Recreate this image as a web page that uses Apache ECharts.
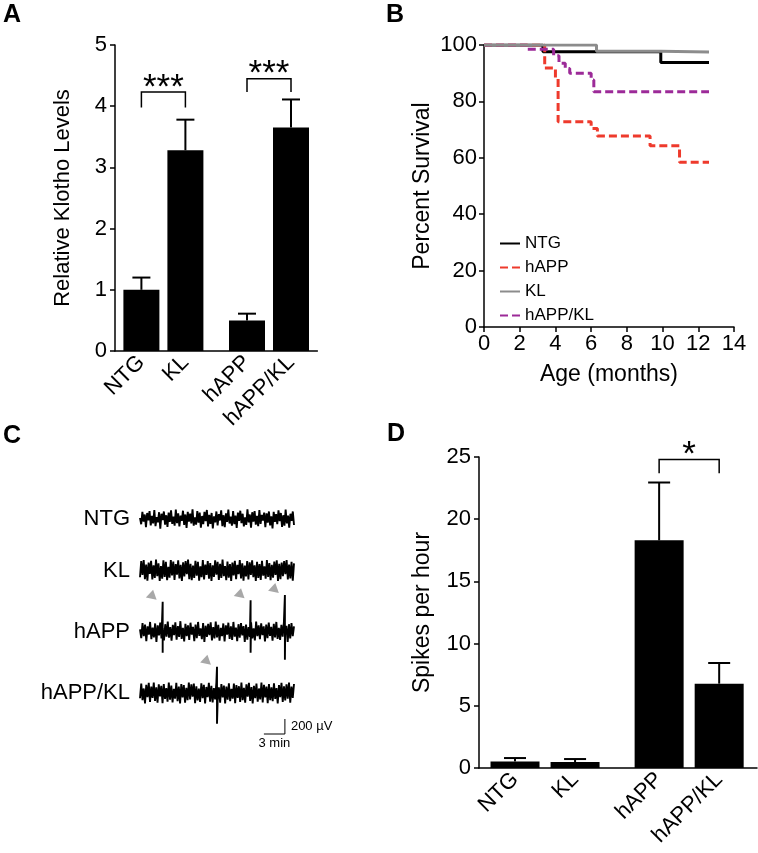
<!DOCTYPE html>
<html><head><meta charset="utf-8">
<script src="https://cdn.jsdelivr.net/npm/echarts@6/dist/echarts.min.js"></script>
<style>html,body{margin:0;padding:0;background:#fff}#c{width:758px;height:853px}</style>
</head><body><div id="c"></div>
<script>
// ---------- Panel A: Relative Klotho Levels ----------
const groupsA = ['NTG', 'KL', 'hAPP', 'hAPP/KL'];
const posA = [0.6, 1.6, 3.0, 4.0];
const klotho = [1.0, 3.28, 0.5, 3.65];
const klothoErr = [1.2, 3.78, 0.61, 4.11];
const bracketsA = [[0.6, 1.6, 4.23, 3.98], [3.0, 4.0, 4.45, 4.23]];
const bracketLabelsA = ['***', '***'];

// ---------- Panel B: survival (months, percent) ----------
const survNTG = [[0, 100], [3.3, 97.6], [9.9, 93.8], [12.6, 93.8]];
const survHAPP = [[0, 100], [3.4, 91.8], [4.0, 88.0], [4.15, 72.8], [6.0, 70.4], [6.35, 67.7], [9.3, 64.3], [10.95, 58.4], [12.6, 58.4]];
const survKL = [[0, 100], [6.3, 97.8], [9.9, 97.5], [12.6, 97.5]];
const survHAPPKL = [[0, 100], [2.4, 98.5], [3.9, 96.2], [4.2, 93.5], [4.55, 91.7], [4.8, 90.0], [6.0, 87.6], [6.15, 83.4], [12.6, 83.4]];

// ---------- Panel C: EEG traces (µV), 22 min each ----------
const traceNames = ['NTG', 'KL', 'hAPP', 'hAPP/KL'];
const traceMinutes = 22;
const traceNTG = [15,-70,95,-35,60,-110,80,-20,105,-85,40,-60,120,-95,25,-45,90,-130,70,-15,100,-75,50,-105,85,-40,115,-65,30,-90,125,-55,75,-100,45,-25,110,-80,60,-120,95,-35,70,-60,130,-90,20,-75,105,-50,85,-115,40,-70,95,-30,120,-100,55,-65,80,-125,35,-45,100,-85,65,-20,115,-95,50,-110,75,-40,125,-60,30,-90,105,-70,45,-120,85,-25,110,-55,70,-100,20,-80,130,-45,60,-115,90,-35,105,-75,40,-95,120,-65,55,-20,85,-110,75,-50,100,-85,35,-125,95,-40,65,-70,115,-30,80,-105,50,-90,125,-60,45,-115,70,-25,100,-80];
const traceKL = [-90,125,-60,140,-115,80,-135,105,-45,130,-120,70,-100,145,-75,95,-140,60,-110,135,-85,115,-130,50,-95,140,-65,120,-125,85,-55,135,-105,75,-140,110,-80,125,-50,145,-115,90,-130,65,-100,130,-70,115,-135,55,-90,140,-120,80,-60,125,-110,100,-140,70,-85,135,-55,115,-125,90,-100,145,-75,60,-130,120,-95,85,-140,105,-65,130,-115,75,-50,140,-105,95,-135,65,-80,125,-120,110,-60,135,-90,70,-140,115,-100,85,-125,130,-70,55,-110,140,-85,100,-130,75,-95,120,-60,135,-140,90,-115,105,-75,125,-50,140,-120,80,-105,115,-135,95];
const traceHAPP = [30,-85,115,-60,95,-125,70,-40,130,-100,55,-75,110,-135,85,-50,120,-90,40,-115,100,-65,135,-80,60,-120,90,-45,125,-105,75,-70,140,-95,50,-130,105,-60,85,-110,120,-40,65,-125,95,-85,130,-55,45,-100,115,-135,80,-70,105,-45,125,-115,60,-90,135,-75,90,-120,50,-60,110,-130,85,-40,120,-95,70,-110,130,-65,55,-125,100,-80,115,-50,75,-135,95,-105,60,-70,125,-90,45,-115,135,-60,85,-100,110,-45,70,-130,95,-85,120,-55,65,-120,105,-75,130,-95,50,-110,90,-65,125,-40,80,-135,100,-90,115,-60,70];
const traceHAPPKL = [-70,125,-95,60,-140,110,-55,135,-120,85,-65,140,-105,75,-130,115,-45,95,-135,120,-80,65,-115,140,-90,100,-125,55,-75,135,-110,85,-140,120,-60,105,-130,70,-95,140,-85,115,-50,125,-135,90,-100,60,-120,130,-70,110,-140,80,-55,135,-115,95,-125,65,-85,140,-105,75,-130,120,-60,100,-140,85,-90,130,-110,55,-75,125,-135,105,-65,90,-120,140,-95,70,-130,115,-50,135,-105,80,-140,95,-70,125,-115,60,-85,140,-125,110,-60,85,-135,120,-95,75,-110,130,-80,65,-140,105,-55,135,-120,90,-100,115,-75,140,-130,85,-65,120];
// spikes: [minute, peak up, peak down]
const spikesNTG = [];
const spikesKL = [];
const spikesHAPP = [[3.24, 400, -280], [15.8, 420, -280], [20.7, 490, -375]];
const spikesHAPPKL = [[11.0, 350, -410]];
const scaleBarMinutes = 3;
const scaleBarMicroV = 200;

// ---------- Panel D: Spikes per hour ----------
const groupsD = ['NTG', 'KL', 'hAPP', 'hAPP/KL'];
const posD = [0.6, 1.6, 3.0, 4.0];
const spikesPerHour = [0.53, 0.48, 18.3, 6.78];
const spikesPerHourErr = [0.8, 0.72, 22.95, 8.44];
const bracketsD = [[3.0, 4.0, 24.8, 23.7]];
const bracketLabelsD = ['*'];

// ================= build =================
const FF = "'Liberation Sans', Arial, Helvetica, sans-serif";
const chart = echarts.init(document.getElementById('c'), null, {renderer: 'canvas'});

function errRender(capW) {
  return function (params, api) {
    const x = api.value(0), v = api.value(1), e = api.value(2);
    const p0 = api.coord([x, v]), p1 = api.coord([x, e]);
    const style = {stroke: '#000', lineWidth: 2};
    return {type: 'group', children: [
      {type: 'line', shape: {x1: p0[0], y1: p0[1], x2: p1[0], y2: p1[1]}, style: style},
      {type: 'line', shape: {x1: p1[0] - capW / 2, y1: p1[1], x2: p1[0] + capW / 2, y2: p1[1]}, style: style}
    ]};
  };
}
function bracketRender(labels) {
  return function (params, api) {
    const a = api.coord([api.value(0), api.value(2)]);
    const b = api.coord([api.value(1), api.value(2)]);
    const la = api.coord([api.value(0), api.value(3)]);
    const lb = api.coord([api.value(1), api.value(3)]);
    return {type: 'group', children: [
      {type: 'polyline', shape: {points: [la, a, b, lb]}, style: {stroke: '#000', lineWidth: 1.5, fill: 'none'}},
      {type: 'text', style: {text: labels[params.dataIndex], x: (a[0] + b[0]) / 2, y: a[1] - 4,
        align: 'center', verticalAlign: 'middle', fontSize: 35, fontFamily: FF, fill: '#000'}}
    ]};
  };
}
function buildTrace(noise, spikes, offset) {
  const n = noise.length;
  const pts = noise.map((v, i) => [traceMinutes * i / (n - 1), v + offset]);
  spikes.forEach(s => {
    let k = pts.findIndex(p => p[0] > s[0]);
    if (k < 0) k = pts.length;
    pts.splice(k, 0, [s[0], s[1] + offset], [s[0], s[2] + offset]);
  });
  return pts;
}

const axisLineStyle = {color: '#000', width: 1.5};
const labelStyle = (fs) => ({color: '#000', fontSize: fs, fontFamily: FF});

// layout of traces in panel C (µV baseline offsets)
const traceOffsets = [-253, -940, -1756, -2573];
const traceNoise = [traceNTG, traceKL, traceHAPP, traceHAPPKL];
const traceSpikes = [spikesNTG, spikesKL, spikesHAPP, spikesHAPPKL];

const series = [];
// Panel A
series.push({type: 'bar', xAxisIndex: 0, yAxisIndex: 0, barWidth: 36, itemStyle: {color: '#000'},
  data: posA.map((p, i) => [p, klotho[i]]), silent: true});
series.push({type: 'custom', xAxisIndex: 0, yAxisIndex: 0, renderItem: errRender(18),
  data: posA.map((p, i) => [p, klotho[i], klothoErr[i]]), z: 3});
series.push({type: 'custom', xAxisIndex: 0, yAxisIndex: 0, renderItem: bracketRender(bracketLabelsA),
  encode: {x: [0, 1], y: [2, 3]}, data: bracketsA, z: 3});
// Panel B
const stepLine = (name, data, color, type, z) => ({name: name, type: 'line', step: 'end', xAxisIndex: 1, yAxisIndex: 1,
  symbol: 'none', data: data, z: z, lineStyle: {color: color, width: 3, type: type}, itemStyle: {color: color}});
series.push(stepLine('NTG', survNTG, '#000000', 'solid', 2));
series.push(stepLine('hAPP', survHAPP, '#ee3a2c', [8, 4], 3));
series.push(stepLine('hAPP/KL', survHAPPKL, '#9c2a98', [8, 4], 4));
series.push(stepLine('KL', survKL, '#8c8c8c', 'solid', 5));
// Panel C
traceNoise.forEach((noise, k) => {
  series.push({type: 'line', xAxisIndex: 2, yAxisIndex: 2, symbol: 'none', silent: true,
    data: buildTrace(noise, traceSpikes[k], traceOffsets[k]),
    lineStyle: {color: '#000', width: 1.9}});
});
series.push({type: 'scatter', xAxisIndex: 2, yAxisIndex: 2, symbolSize: 0, silent: true, itemStyle: {opacity: 1},
  data: traceNames.map((nm, k) => ({value: [0, traceOffsets[k]], name: nm})),
  label: {show: true, position: 'left', distance: 10, formatter: '{b}', fontSize: 22, fontFamily: FF, color: '#000'}});
const arrowData = [];
traceSpikes.forEach((sp, k) => sp.forEach(s => arrowData.push([s[0] - 1.5, traceOffsets[k] + s[1] + 100])));
series.push({type: 'scatter', xAxisIndex: 2, yAxisIndex: 2, symbol: 'triangle', symbolSize: [11, 9], symbolRotate: -12,
  itemStyle: {color: '#a8a8a8', opacity: 1}, data: arrowData, silent: true});
// scale bar
const sbX = 20.7, sbY = -3120;
series.push({type: 'line', xAxisIndex: 2, yAxisIndex: 2, symbol: 'none', silent: true,
  data: [[sbX - scaleBarMinutes, sbY], [sbX, sbY], [sbX, sbY + scaleBarMicroV]],
  lineStyle: {color: '#000', width: 1}});
series.push({type: 'scatter', xAxisIndex: 2, yAxisIndex: 2, symbolSize: 0, silent: true, itemStyle: {opacity: 1},
  data: [
    {value: [sbX, sbY + scaleBarMicroV / 2], label: {position: 'right', distance: 6, formatter: scaleBarMicroV + ' µV'}},
    {value: [sbX - scaleBarMinutes / 2, sbY], label: {position: 'bottom', distance: 3, formatter: scaleBarMinutes + ' min'}}
  ],
  label: {show: true, fontSize: 13, fontFamily: FF, color: '#000'}});
// Panel D
series.push({type: 'bar', xAxisIndex: 3, yAxisIndex: 3, barWidth: 49, itemStyle: {color: '#000'},
  data: posD.map((p, i) => [p, spikesPerHour[i]]), silent: true});
series.push({type: 'custom', xAxisIndex: 3, yAxisIndex: 3, renderItem: errRender(22),
  data: posD.map((p, i) => [p, spikesPerHour[i], spikesPerHourErr[i]]), z: 3});
series.push({type: 'custom', xAxisIndex: 3, yAxisIndex: 3, renderItem: bracketRender(bracketLabelsD),
  encode: {x: [0, 1], y: [2, 3]}, data: bracketsD, z: 3});

const nameOf = (pos, names) => (v) => { const i = pos.findIndex(p => Math.abs(p - v) < 1e-6); return i >= 0 ? names[i] : ''; };

const option = {
  animation: false,
  backgroundColor: '#fff',
  textStyle: {fontFamily: FF},
  grid: [
    {left: 115, top: 45, width: 202.4, height: 306, outerBoundsMode: 'none', containLabel: false},
    {left: 484, top: 45, width: 250, height: 282, outerBoundsMode: 'none', containLabel: false},
    {left: 140, top: 500, width: 154, height: 240, outerBoundsMode: 'none', containLabel: false},
    {left: 479, top: 457, width: 278, height: 311, outerBoundsMode: 'none', containLabel: false}
  ],
  xAxis: [
    {gridIndex: 0, type: 'value', min: 0, max: 4.6, splitLine: {show: false},
      axisLine: {lineStyle: axisLineStyle}, axisTick: {show: false},
      axisLabel: Object.assign(labelStyle(22), {customValues: posA, rotate: 45, margin: 8, formatter: nameOf(posA, groupsA)})},
    {gridIndex: 1, type: 'value', min: 0, max: 14, interval: 2, splitLine: {show: false},
      axisLine: {lineStyle: axisLineStyle}, axisTick: {length: 5, lineStyle: {color: '#000', width: 1.5}},
      axisLabel: Object.assign(labelStyle(22), {margin: 6}),
      name: 'Age (months)', nameLocation: 'middle', nameGap: 36, nameTextStyle: labelStyle(23)},
    {gridIndex: 2, type: 'value', min: 0, max: traceMinutes, show: false},
    {gridIndex: 3, type: 'value', min: 0, max: 4.63, splitLine: {show: false},
      axisLine: {lineStyle: axisLineStyle}, axisTick: {show: false},
      axisLabel: Object.assign(labelStyle(22), {customValues: posD, rotate: 45, margin: 8, formatter: nameOf(posD, groupsD)})}
  ],
  yAxis: [
    {gridIndex: 0, type: 'value', min: 0, max: 5, interval: 1, splitLine: {show: false},
      axisLine: {show: true, lineStyle: axisLineStyle}, axisTick: {show: true, length: 5, lineStyle: {color: '#000', width: 1.5}},
      axisLabel: Object.assign(labelStyle(22), {margin: 8}),
      name: 'Relative Klotho Levels', nameLocation: 'middle', nameGap: 41, nameRotate: 90, nameTextStyle: labelStyle(22)},
    {gridIndex: 1, type: 'value', min: 0, max: 100, interval: 20, splitLine: {show: false},
      axisLine: {show: true, lineStyle: axisLineStyle}, axisTick: {show: true, length: 5, lineStyle: {color: '#000', width: 1.5}},
      axisLabel: Object.assign(labelStyle(22), {margin: 7}),
      name: 'Percent Survival', nameLocation: 'middle', nameGap: 50, nameRotate: 90, nameTextStyle: labelStyle(23)},
    {gridIndex: 2, type: 'value', min: -3200, max: 0, show: false},
    {gridIndex: 3, type: 'value', min: 0, max: 25, interval: 5, splitLine: {show: false},
      axisLine: {show: true, lineStyle: axisLineStyle}, axisTick: {show: true, length: 5, lineStyle: {color: '#000', width: 1.5}},
      axisLabel: Object.assign(labelStyle(22), {margin: 8}),
      name: 'Spikes per hour', nameLocation: 'middle', nameGap: 45, nameRotate: 90, nameTextStyle: labelStyle(23)}
  ],
  legend: {data: ['NTG', 'hAPP', 'KL', 'hAPP/KL'], orient: 'vertical', left: 494, top: 230,
    itemWidth: 20, itemHeight: 14, itemGap: 7, selectedMode: false, itemStyle: {opacity: 0},
    textStyle: {fontSize: 17, fontFamily: FF, color: '#000'}},
  graphic: [
    {type: 'text', left: 3, top: 3, style: {text: 'A', fontSize: 25, fontWeight: 'bold', fontFamily: FF, fill: '#000'}},
    {type: 'text', left: 386, top: 3, style: {text: 'B', fontSize: 25, fontWeight: 'bold', fontFamily: FF, fill: '#000'}},
    {type: 'text', left: 3, top: 424, style: {text: 'C', fontSize: 25, fontWeight: 'bold', fontFamily: FF, fill: '#000'}},
    {type: 'text', left: 387, top: 422, style: {text: 'D', fontSize: 25, fontWeight: 'bold', fontFamily: FF, fill: '#000'}}
  ],
  series: series
};
chart.setOption(option);
</script></body></html>
